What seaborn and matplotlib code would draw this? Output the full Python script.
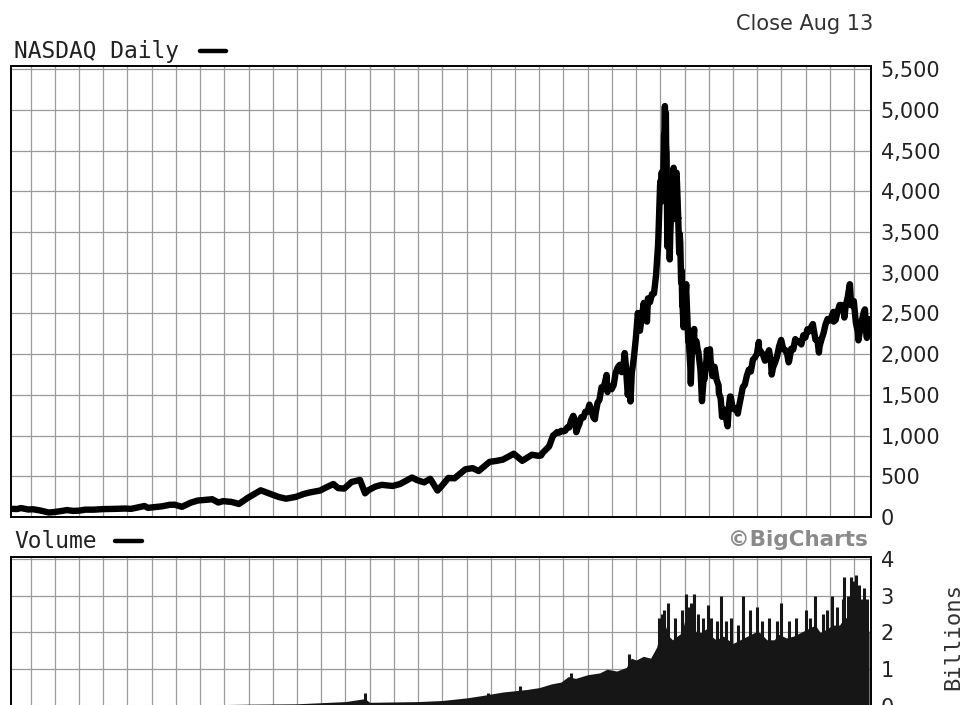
import numpy as np
import pandas as pd
import matplotlib
matplotlib.use('Agg')
import matplotlib.pyplot as plt
from matplotlib.lines import Line2D
import seaborn as sns

sns.set_theme(style="white")
plt.rcParams['font.family'] = ['DejaVu Sans']

# NASDAQ close, early years (decimal year, index level)
early_years = [1973.20, 1973.45, 1973.60, 1973.90, 1974.10, 1974.40, 1974.75, 1974.95,
               1975.30, 1975.50, 1975.75, 1976.00, 1976.25, 1976.60, 1977.00, 1977.50,
               1977.90, 1978.15, 1978.70, 1978.85, 1979.00, 1979.40, 1979.75, 1979.95,
               1980.25, 1980.60, 1980.90, 1981.20, 1981.50, 1981.75, 1981.95, 1982.30,
               1982.60, 1982.95, 1983.25, 1983.50, 1983.95, 1984.25, 1984.55, 1984.95,
               1985.25, 1985.50, 1985.95, 1986.25, 1986.50, 1986.70, 1986.95, 1987.25,
               1987.60, 1987.81, 1987.95, 1988.25, 1988.50, 1988.95, 1989.25, 1989.75,
               1989.95, 1990.25, 1990.50, 1990.80, 1990.95, 1991.25, 1991.50, 1991.95,
               1992.25, 1992.50, 1992.95, 1993.25, 1993.50, 1993.95, 1994.30, 1994.70,
               1994.95]
early_close = [100, 98, 110, 92, 95, 80, 55, 60,
               75, 85, 75, 78, 90, 90, 97, 100,
               104, 100, 135, 112, 118, 130, 150, 151,
               125, 175, 202, 210, 218, 178, 195, 185,
               160, 232, 285, 328, 278, 245, 225, 247,
               280, 300, 325, 370, 405, 355, 349, 430,
               455, 291, 330, 375, 395, 381, 405, 485,
               454, 425, 470, 325, 373, 480, 475, 586,
               600, 565, 677, 690, 705, 777, 690, 765,
               752]

# month-end closes, Jan 1995 .. Jul 2008
monthly_close = [
    755, 793, 817, 843, 865, 933, 1001, 1020, 1044, 1036, 1059, 1052,
    1060, 1100, 1101, 1191, 1243, 1185, 1081, 1141, 1227, 1221, 1293, 1291,
    1380, 1310, 1222, 1261, 1400, 1442, 1594, 1587, 1686, 1594, 1601, 1570,
    1619, 1771, 1835, 1869, 1779, 1895, 1873, 1499, 1694, 1772, 1950, 2193,
    2506, 2288, 2461, 2543, 2471, 2686, 2638, 2739, 2746, 2966, 3336, 4069,
    3940, 4697, 4573, 3861, 3401, 3966, 3767, 4206, 3673, 3370, 2598, 2471,
    2773, 2152, 1840, 2116, 2110, 2161, 2027, 1805, 1499, 1690, 1931, 1950,
    1934, 1731, 1845, 1688, 1616, 1463, 1328, 1315, 1172, 1330, 1479, 1336,
    1321, 1337, 1341, 1464, 1596, 1623, 1735, 1810, 1787, 1932, 1960, 2003,
    2066, 2030, 1994, 1920, 1987, 2048, 1887, 1838, 1897, 1975, 2097, 2175,
    2062, 2052, 1999, 1922, 2068, 2057, 2185, 2152, 2152, 2120, 2233, 2205,
    2306, 2281, 2340, 2323, 2179, 2172, 2091, 2184, 2258, 2367, 2432, 2415,
    2464, 2416, 2422, 2525, 2605, 2603, 2546, 2596, 2702, 2859, 2661, 2652,
    2390, 2271, 2279, 2413, 2523, 2293, 2326]

# intra-month swings
swing_years = [1996.53, 1997.30, 1997.78, 1997.82, 1998.53, 1998.77, 1999.32, 1999.45,
               1999.92, 2000.01, 2000.04, 2000.06, 2000.10, 2000.16, 2000.19, 2000.21,
               2000.23, 2000.26, 2000.28, 2000.29, 2000.31, 2000.33, 2000.37, 2000.39,
               2000.41, 2000.47, 2000.55, 2000.59, 2000.67, 2000.69, 2000.74, 2000.78,
               2000.80, 2000.86, 2000.88, 2000.92, 2000.96, 2001.07, 2001.16, 2001.20,
               2001.26, 2001.32, 2001.40, 2001.49, 2001.56, 2001.66, 2001.72, 2001.80,
               2001.92, 2002.05, 2002.42, 2002.55, 2002.78, 2002.88, 2003.20, 2004.07,
               2004.60, 2005.30, 2006.30, 2006.55, 2007.15, 2007.16, 2007.60, 2007.83,
               2007.88, 2008.18, 2008.45, 2008.53, 2008.617]
swing_close = [1042, 1201, 1745, 1535, 2014, 1419, 2630, 2400,
               3430, 4130, 3880, 4235, 3880, 4600, 5048, 4580,
               4963, 4460, 3770, 3321, 3800, 3640, 3860, 3164,
               3460, 3960, 4290, 3660, 4230, 4100, 3670, 3240,
               3480, 2880, 3030, 2600, 2330, 2860, 2300, 2050,
               1638, 2180, 2310, 2160, 2030, 1800, 1423, 1740,
               2050, 2060, 1520, 1230, 1114, 1480, 1270, 2150,
               1750, 1900, 2370, 2020, 2520, 2400, 2450, 2859,
               2600, 2170, 2550, 2200, 2430]

# volume in billions: base envelope and single-day spikes
vol_years = [1973.2, 1980.0, 1983.0, 1985.0, 1986.0, 1987.0, 1987.8, 1988.0, 1990.0,
             1991.0, 1992.0, 1992.6, 1993.5, 1994.5, 1995.0, 1995.5, 1995.9, 1996.2,
             1996.5, 1997.0, 1997.5, 1997.8, 1998.2, 1998.6, 1998.8, 1999.0, 1999.3,
             1999.6, 1999.85, 2000.0, 2000.1, 2000.2, 2000.35, 2000.5, 2000.7, 2000.9,
             2001.0, 2001.15, 2001.3, 2001.5, 2001.7, 2001.9, 2002.1, 2002.3, 2002.6,
             2002.8, 2003.0, 2003.3, 2003.6, 2003.9, 2004.1, 2004.4, 2004.7, 2004.9,
             2005.2, 2005.5, 2005.8, 2006.1, 2006.4, 2006.6, 2006.9, 2007.1, 2007.4,
             2007.6, 2007.8, 2008.0, 2008.2, 2008.4, 2008.55, 2008.62]
vol_base = [0.005, 0.02, 0.05, 0.06, 0.09, 0.12, 0.2, 0.1, 0.12,
            0.15, 0.22, 0.28, 0.38, 0.45, 0.5, 0.6, 0.65, 0.8,
            0.75, 0.85, 0.9, 1.0, 0.95, 1.05, 1.3, 1.25, 1.35,
            1.3, 1.6, 2.0, 2.4, 2.2, 1.9, 1.8, 1.9, 2.0,
            2.3, 2.4, 2.2, 2.0, 2.0, 2.1, 1.9, 1.8, 1.9,
            1.8, 1.7, 1.8, 1.9, 2.0, 2.0, 1.8, 1.8, 1.95,
            1.85, 1.9, 2.0, 2.1, 2.2, 2.0, 2.1, 2.2, 2.2,
            2.4, 2.4, 2.6, 2.5, 2.3, 2.2, 2.0]
spike_years = [1987.8, 1992.9, 1994.2, 1996.3, 1998.7, 1999.95, 2000.05, 2000.15,
               2000.32, 2000.6, 2000.9, 2001.07, 2001.15, 2001.25, 2001.4, 2001.55,
               2001.75, 2001.96, 2002.1, 2002.35, 2002.5, 2002.7, 2002.9, 2003.2,
               2003.4, 2003.7, 2004.0, 2004.2, 2004.5, 2004.8, 2005.0, 2005.3,
               2005.6, 2006.0, 2006.2, 2006.4, 2006.7, 2006.9, 2007.1, 2007.3,
               2007.55, 2007.6, 2007.75, 2007.88, 2007.95, 2008.08, 2008.2, 2008.3,
               2008.4, 2008.55]
spike_vals = [0.35, 0.35, 0.55, 0.9, 1.4, 2.4, 2.5, 2.6,
              2.8, 2.4, 2.6, 3.05, 2.7, 2.8, 3.05, 2.5,
              2.4, 2.75, 2.4, 2.3, 3.0, 2.3, 2.4, 2.2,
              3.0, 2.6, 2.7, 2.3, 2.4, 2.3, 2.8, 2.3,
              2.4, 2.6, 2.4, 3.0, 2.5, 2.6, 3.0, 2.7,
              2.9, 3.5, 3.0, 3.5, 3.4, 3.55, 3.3, 2.9,
              3.2, 2.9]

price_ticks = list(range(0, 5501, 500))
vol_ticks = [0, 1, 2, 3, 4]

# build price frame
month_years = [1995 + (i + 1) / 12 - 0.01 for i in range(len(monthly_close))]
price = pd.DataFrame({
    'year': early_years + month_years + swing_years,
    'close': early_close + monthly_close + swing_close,
}).sort_values('year')

W, H = 962, 705
fig = plt.figure(figsize=(W / 100, H / 100), dpi=100)
ax1 = fig.add_axes([11 / W, 1 - 517 / H, 860 / W, 451 / H])
ax2 = fig.add_axes([11 / W, 1 - 706 / H, 860 / W, 149 / H])

xlim = (1973.19, 2008.70)
grid_kw = dict(color='#9a9a9a', linewidth=0.9)

# price panel
sns.lineplot(data=price, x='year', y='close', color='black', linewidth=4.6,
             ax=ax1, sort=True, estimator=None)
ax1.set_xlim(*xlim)
ax1.set_ylim(0, 5540)
ax1.set_xticks(range(1974, 2009))
ax1.set_yticks(price_ticks)
ax1.set_yticklabels([f'{v:,}' for v in price_ticks])

# volume panel
ax2.fill_between(vol_years, vol_base, color='#161616', linewidth=0)
ax2.vlines(spike_years, 0, spike_vals, color='#161616', linewidth=2.2)
ax2.set_xlim(*xlim)
ax2.set_ylim(0, 4.05)
ax2.set_xticks(range(1974, 2009))
ax2.set_yticks(vol_ticks)

for ax in (ax1, ax2):
    ax.grid(True, **grid_kw)
    ax.set_axisbelow(True)
    ax.set_xlabel('')
    ax.set_ylabel('')
    ax.tick_params(axis='x', labelbottom=False, length=0)
    ax.tick_params(axis='y', left=False, labelleft=False, right=False,
                   labelright=True, length=0, pad=7, labelsize=15,
                   labelcolor='#222222')
    for s in ax.spines.values():
        s.set_visible(True)
        s.set_color('black')
        s.set_linewidth(1.4)

mono = 'DejaVu Sans Mono'
fig.text(14 / W, 1 - 58 / H, 'NASDAQ Daily', family=mono, fontsize=16.5,
         color='#222222', va='baseline')
fig.add_artist(Line2D([200 / W, 226 / W], [1 - 51 / H] * 2, color='black',
                      linewidth=3.2))
fig.text(14 / W, 1 - 548 / H, 'Volume', family=mono, fontsize=16.5,
         color='#222222', va='baseline')
fig.add_artist(Line2D([115 / W, 142 / W], [1 - 541 / H] * 2, color='black',
                      linewidth=3.2))
fig.text(873 / W, 1 - 30 / H, 'Close Aug 13', fontsize=15, color='#333333',
         ha='right', va='baseline')
fig.text(868 / W, 1 - 546 / H, '©BigCharts', fontsize=15.5, fontweight='bold',
         color='#8a8a8a', ha='right', va='baseline')
fig.text(953 / W, 1 - 636 / H, 'Billions', family=mono, fontsize=16,
         color='#333333', rotation=90, ha='center', va='center')

fig.savefig('out.png', dpi=100)
